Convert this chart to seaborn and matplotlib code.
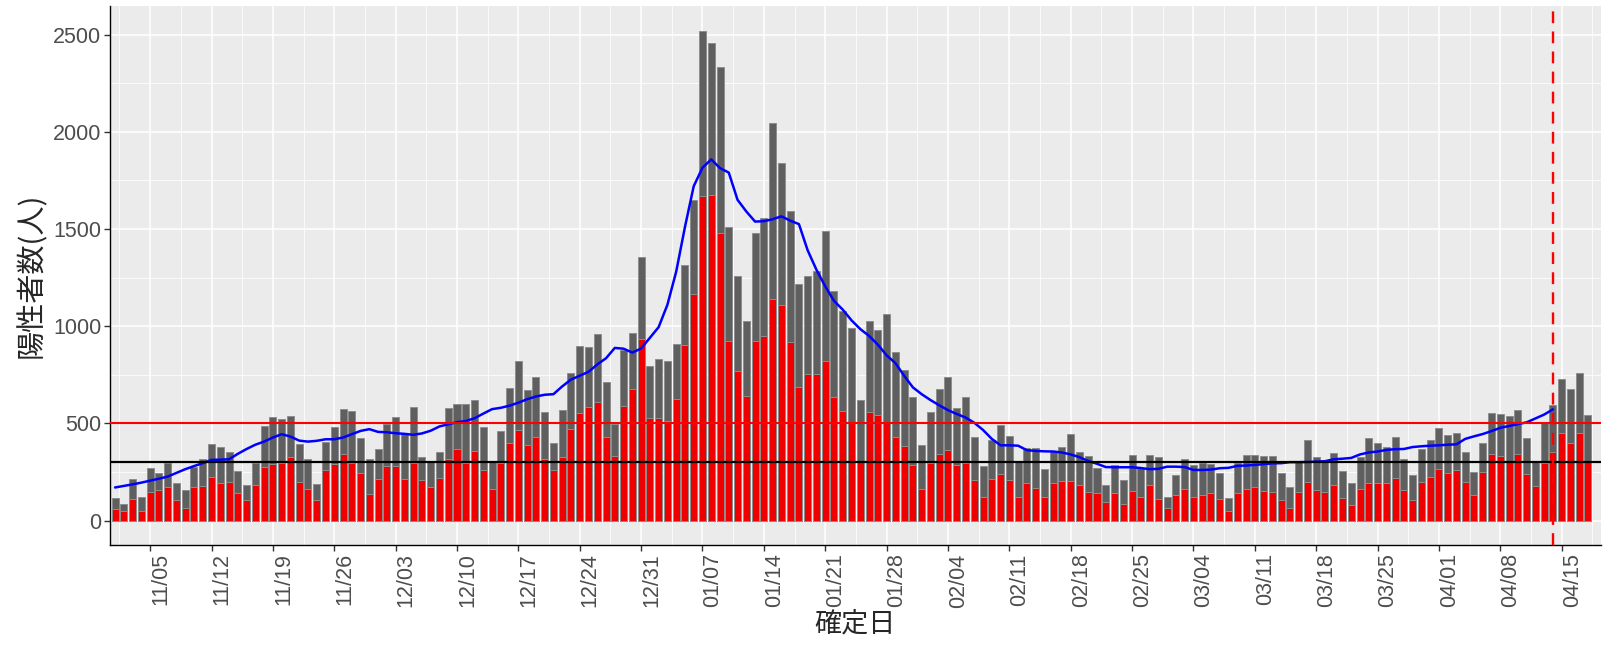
import pandas as pd
import numpy as np
import matplotlib
matplotlib.use("Agg")
import matplotlib.pyplot as plt
from matplotlib.ticker import MultipleLocator, FixedLocator
import seaborn as sns

# daily positives (grey), red subset, 7-day average (blue), 2020-11-01 .. 2021-04-18
total = [
    115, 85, 212, 121, 272, 243, 295, 192, 157, 276, 315, 392, 379, 355, 257,
    181, 298, 487, 535, 524, 540, 392, 317, 190, 404, 482, 572, 562, 422, 317,
    370, 494, 535, 450, 586, 329, 299, 355, 578, 600, 600, 621, 480, 305, 458, 684,
    823, 669, 736, 556, 398, 570, 758, 899, 892, 959, 712, 495, 878, 967, 1355,
    796, 833, 823, 907, 1315, 1648, 2521, 2459, 2332, 1512, 1259, 1024, 1481, 1556, 2047,
    1838, 1595, 1218, 1259, 1286, 1490, 1183, 1079, 989, 621, 1027, 981, 1063, 869, 772, 638,
    389, 556, 676, 736, 578, 638, 429, 279, 415, 492, 435, 307, 375, 375,
    264, 358, 377, 444, 350, 332, 272, 181, 286, 209, 338, 270, 338, 329,
    123, 235, 315, 286, 298, 291, 243, 115, 298, 338, 338, 332, 330, 243, 175, 300,
    415, 326, 303, 346, 257, 192, 326, 423, 401, 380, 430, 317, 236, 368, 415,
    475, 442, 452, 353, 250, 398, 555, 548, 540, 571, 422, 306, 509, 595, 727, 675, 759, 545,
]
subset = [
    58, 51, 111, 51, 149, 156, 170, 104, 65, 170, 178, 223, 193, 200, 140,
    104, 183, 274, 290, 295, 327, 200, 163, 104, 260, 290, 343, 295, 247, 135,
    216, 283, 283, 216, 295, 209, 170, 221, 319, 370, 295, 357, 260, 163, 295, 401,
    466, 386, 430, 318, 261, 325, 470, 552, 583, 611, 432, 330, 590, 679, 933,
    527, 530, 513, 626, 902, 1165, 1669, 1677, 1478, 926, 770, 641, 926, 947, 1140,
    1111, 916, 686, 753, 753, 822, 635, 566, 506, 300, 557, 544, 509, 429, 384, 286,
    163, 295, 343, 363, 286, 295, 209, 123, 214, 238, 207, 123, 192, 169,
    123, 192, 205, 205, 183, 147, 139, 94, 139, 85, 154, 123, 183, 109,
    65, 132, 163, 123, 133, 140, 109, 51, 140, 163, 175, 154, 146, 103, 65, 147,
    200, 156, 147, 183, 118, 80, 163, 193, 193, 193, 221, 156, 103, 200, 223,
    265, 245, 259, 200, 133, 252, 341, 332, 300, 341, 238, 178, 298, 355, 452, 398, 450, 300,
]
avg7 = [
    170, 178, 186, 195, 205, 215, 226, 245, 264, 280, 295, 312, 313, 315, 343, 368, 390,
    406, 427, 444, 432, 411, 406, 410, 418, 418, 427, 444, 461, 470, 456, 454, 449, 446,
    441, 448, 462, 484, 495, 506, 512, 526, 550, 573, 580, 591, 606, 624, 638, 647,
    650, 690, 725, 745, 765, 803, 835, 888, 884, 864, 885, 940, 995, 1110, 1280, 1510, 1720,
    1815, 1858, 1813, 1790, 1650, 1590, 1538, 1540, 1550, 1565, 1543, 1525, 1390, 1290, 1205, 1130,
    1085, 1030, 985, 950, 905, 850, 810, 745, 685, 650, 620, 593, 568, 548, 530, 503, 466,
    420, 387, 387, 385, 362, 358, 356, 355, 350, 340, 326, 306, 292, 275, 274, 274,
    274, 270, 264, 266, 277, 277, 275, 260, 260, 262, 269, 271, 281, 283, 286, 290, 294, 295,
    300, 300, 301, 303, 305, 315, 318, 322, 340, 350, 355, 363, 367, 368, 378,
    382, 385, 387, 390, 392, 420, 433, 445, 460, 477, 486, 496, 505, 525, 545, 572,
]

dates = pd.date_range("2020-11-01", periods=len(total), freq="D")
df = pd.DataFrame({"day": np.arange(len(total)), "total": total, "subset": subset})
avg_df = pd.DataFrame({"day": np.arange(len(avg7)), "avg": avg7})

marker_day = 164          # 04/14
first_tick = 4            # 11/05

sns.set_style("darkgrid", {"axes.facecolor": "#EBEBEB", "grid.color": "white"})
plt.rcParams["font.family"] = ["Liberation Sans", "Noto Sans CJK JP", "DejaVu Sans"]

fig = plt.figure(figsize=(16.04, 6.56), dpi=100)
ax = fig.add_axes([0.0683, 0.1692, 0.9299, 0.8216])

sns.barplot(data=df, x="day", y="total", native_scale=True, color="#5F5F5F",
            saturation=1, edgecolor="#8E8E8E", linewidth=0.7, width=0.8,
            errorbar=None, ax=ax)
sns.barplot(data=df, x="day", y="subset", native_scale=True, color="#EE0000",
            saturation=1, edgecolor="#8E8E8E", linewidth=0.7, width=0.8,
            errorbar=None, ax=ax)
sns.lineplot(data=avg_df, x="day", y="avg", color="blue", linewidth=1.8, ax=ax, zorder=3)

ax.axhline(500, color="red", lw=1.5, zorder=4)
ax.axhline(300, color="black", lw=1.6, zorder=4)
ax.axvline(marker_day, color="red", lw=1.7, ls=(0, (5, 3.5)), zorder=4)

ax.set_xlim(-0.63, len(total) + 0.5)
ax.set_ylim(-126, 2647)

ticks = np.arange(first_tick, len(total), 7)
ax.xaxis.set_major_locator(FixedLocator(ticks))
ax.xaxis.set_minor_locator(FixedLocator(np.arange(first_tick - 3.5, len(total), 7)))
ax.set_xticklabels([dates[i].strftime("%m/%d") for i in ticks], rotation=90,
                   ha="left", va="top")
ax.yaxis.set_major_locator(MultipleLocator(500))
ax.yaxis.set_minor_locator(MultipleLocator(250))

ax.grid(which="major", color="white", lw=1.1)
ax.grid(which="minor", color="white", lw=0.55)
ax.set_axisbelow(True)

for s in ["top", "right"]:
    ax.spines[s].set_visible(False)
for s in ["left", "bottom"]:
    ax.spines[s].set_visible(True)
    ax.spines[s].set_color("black")
    ax.spines[s].set_linewidth(1.0)

ax.tick_params(which="major", length=4, width=1, color="#333333",
               labelcolor="#4D4D4D", labelsize=15.5, pad=2)
ax.tick_params(which="minor", length=0)
ax.tick_params(axis="both", bottom=True, left=True)

ax.set_xlabel("確定日", fontsize=19.5, family=["Noto Sans CJK JP"], labelpad=2)
ax.set_ylabel("陽性者数(人)", fontsize=21, family=["Noto Sans CJK JP"], labelpad=4)

fig.savefig("out.png", dpi=100)
